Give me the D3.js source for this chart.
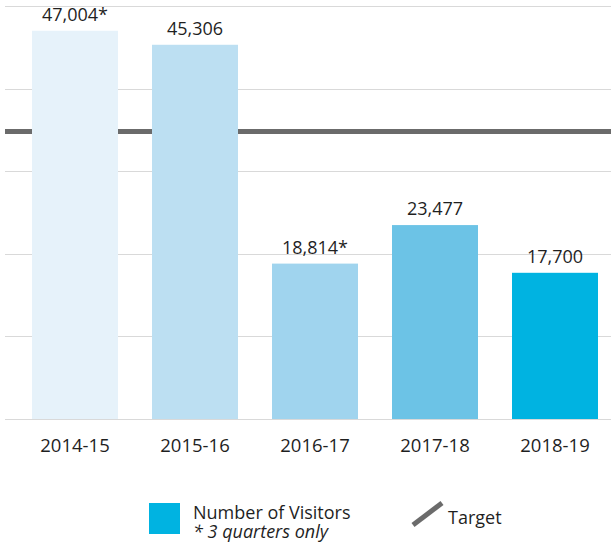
<!DOCTYPE html>
<html>
<head>
<meta charset="utf-8">
<script src="https://cdn.jsdelivr.net/npm/d3@7"></script>
<style>
  body { margin: 0; background: #fff; }
  svg { display: block; font-family: "Open Sans", sans-serif; }
</style>
</head>
<body>
<div id="chart"></div>
<script>
const years = ["2014-15", "2015-16", "2016-17", "2017-18", "2018-19"];
const visitors = [47004, 45306, 18814, 23477, 17700];
const notes = ["*", "", "*", "", ""];
const barColors = ["#e6f2fa", "#bcdff2", "#a0d4ee", "#6cc3e6", "#00b3e1"];
const target = 35000;
const gridTicks = [0, 10000, 20000, 30000, 40000, 50000];

const width = 611;
const height = 544;

const svg = d3.select("#chart")
    .append("svg")
    .attr("width", width)
    .attr("height", height);

const x = d3.scaleBand()
    .domain(years)
    .range([15, 615])
    .paddingInner(34 / 120)
    .paddingOuter(17 / 120);

const y = d3.scaleLinear()
    .domain([0, 50000])
    .range([419, 6]);

// gridlines
svg.append("g")
    .selectAll("line")
    .data(gridTicks)
    .enter()
    .append("line")
    .attr("x1", 5)
    .attr("x2", width)
    .attr("y1", d => Math.round(y(d)) + 0.5)
    .attr("y2", d => Math.round(y(d)) + 0.5)
    .attr("stroke", "#d9d9d9")
    .attr("stroke-width", 1);

// target line
svg.append("line")
    .attr("x1", 5)
    .attr("x2", width)
    .attr("y1", y(target) + 1.5)
    .attr("y2", y(target) + 1.5)
    .attr("stroke", "#6b6b6b")
    .attr("stroke-width", 5);

// bars
svg.selectAll(".bar")
    .data(visitors)
    .enter()
    .append("rect")
    .attr("class", "bar")
    .attr("x", (d, i) => x(years[i]))
    .attr("y", d => y(d))
    .attr("width", x.bandwidth())
    .attr("height", d => y(0) - y(d))
    .attr("fill", (d, i) => barColors[i]);

// value labels
svg.selectAll(".value")
    .data(visitors)
    .enter()
    .append("text")
    .attr("class", "value")
    .attr("x", (d, i) => x(years[i]) + x.bandwidth() / 2)
    .attr("y", d => y(d) - 10)
    .attr("text-anchor", "middle")
    .style("font-size", "18px")
    .style("fill", "#1f1f1f")
    .text((d, i) => d3.format(",")(d) + notes[i]);

// category axis
const xAxis = svg.append("g")
    .attr("transform", `translate(0,${y(0)})`)
    .call(d3.axisBottom(x).tickSize(0).tickPadding(20));
xAxis.select(".domain").remove();
xAxis.selectAll("text")
    .attr("dy", "0.71em")
    .style("font-family", "Open Sans, sans-serif")
    .style("font-size", "18.5px")
    .style("fill", "#1f1f1f");

// legend
const legend = svg.append("g");
legend.append("rect")
    .attr("x", 149)
    .attr("y", 503)
    .attr("width", 31)
    .attr("height", 31)
    .attr("fill", barColors[4]);
legend.append("text")
    .attr("x", 193)
    .attr("y", 519)
    .style("font-size", "18px")
    .style("fill", "#1f1f1f")
    .text("Number of Visitors");
legend.append("text")
    .attr("x", 193)
    .attr("y", 538)
    .style("font-size", "18px")
    .style("font-style", "italic")
    .style("fill", "#1f1f1f")
    .text("* 3 quarters only");
legend.append("line")
    .attr("x1", 413)
    .attr("y1", 525)
    .attr("x2", 442)
    .attr("y2", 503)
    .attr("stroke", "#6b6b6b")
    .attr("stroke-width", 5);
legend.append("text")
    .attr("x", 448)
    .attr("y", 524)
    .style("font-size", "18px")
    .style("fill", "#1f1f1f")
    .text("Target");
</script>
</body>
</html>
